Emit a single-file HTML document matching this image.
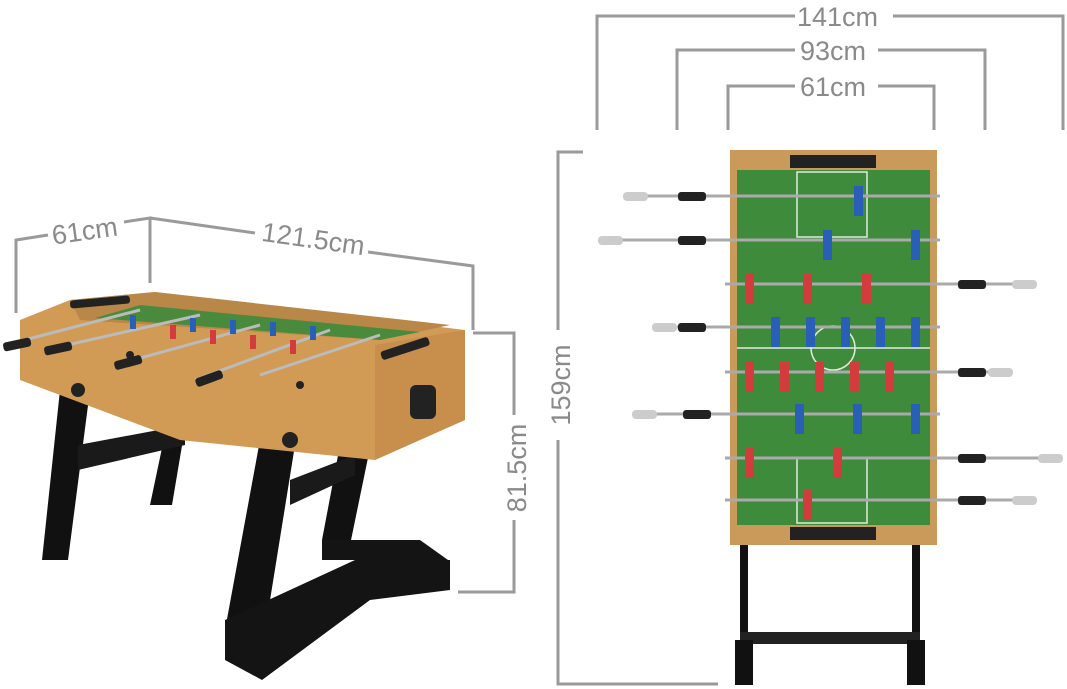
<!DOCTYPE html>
<html><head><meta charset="utf-8"><style>
html,body{margin:0;padding:0;background:#fff;width:1067px;height:689px;overflow:hidden}
svg text{font-family:"Liberation Sans",sans-serif;fill:#8a8a8a;font-size:27px}
</style></head><body>
<svg width="1067" height="689" viewBox="0 0 1067 689" xmlns="http://www.w3.org/2000/svg">
<g stroke="#9a9a9a" stroke-width="3" fill="none">
<!-- right dims -->
<polyline points="597,130 597,16 795,16"/><polyline points="893,16 1063,16 1063,130"/>
<polyline points="677,130 677,50 795,50"/><polyline points="878,50 985,50 985,130"/>
<polyline points="728,130 728,86 795,86"/><polyline points="878,86 934,86 934,130"/>
<polyline points="583,152 558,152 558,330"/><polyline points="558,440 558,684 718,684"/>
<!-- left dims -->
<polyline points="16,313 16,240 48,235"/><polyline points="124,222 150,218 150,283"/>
<polyline points="150,218 255,233"/><polyline points="368,252 473,266 473,330"/>
<polyline points="473,333 514,333 514,415"/><polyline points="514,520 514,592 458,592"/>
</g>
<text x="797" y="26">141cm</text>
<text x="800" y="60">93cm</text>
<text x="800" y="96">61cm</text>
<text transform="translate(570,385) rotate(-90)" text-anchor="middle">159cm</text>
<text transform="translate(86,240) rotate(-8)" text-anchor="middle">61cm</text>
<text transform="translate(312,248) rotate(8)" text-anchor="middle">121.5cm</text>
<text transform="translate(526,468) rotate(-90)" text-anchor="middle">81.5cm</text>

<!-- right table -->
<g>
<rect x="740" y="540" width="8" height="145" fill="#111"/>
<rect x="912" y="540" width="8" height="145" fill="#111"/>
<rect x="740" y="632" width="180" height="12" fill="#222"/>
<rect x="735" y="640" width="18" height="45" fill="#111"/><rect x="907" y="640" width="18" height="45" fill="#111"/>
<rect x="730" y="150" width="207" height="395" fill="#c99a5a"/>
<rect x="737" y="170" width="193" height="355" fill="#3f8b3c"/>
<rect x="790" y="155" width="86" height="13" fill="#222"/>
<rect x="790" y="527" width="86" height="13" fill="#222"/>
<g stroke="#dfe9dc" stroke-width="1.5" fill="none">
<rect x="797" y="172" width="70" height="65"/><rect x="797" y="458" width="70" height="65"/>
<line x1="737" y1="348" x2="930" y2="348"/><circle cx="833" cy="348" r="22"/>
</g>
<g stroke="#aaa" stroke-width="3">
<line x1="625" y1="196" x2="940" y2="196"/><line x1="600" y1="240" x2="940" y2="240"/>
<line x1="725" y1="284" x2="1035" y2="284"/><line x1="655" y1="327" x2="940" y2="327"/>
<line x1="725" y1="372" x2="1010" y2="372"/><line x1="635" y1="414" x2="940" y2="414"/>
<line x1="725" y1="458" x2="1062" y2="458"/><line x1="725" y1="500" x2="1035" y2="500"/>
</g>
<g fill="#222">
<rect x="678" y="192" width="28" height="9" rx="3"/><rect x="678" y="236" width="28" height="9" rx="3"/>
<rect x="958" y="280" width="28" height="9" rx="3"/><rect x="678" y="323" width="28" height="9" rx="3"/>
<rect x="958" y="368" width="28" height="9" rx="3"/><rect x="683" y="410" width="28" height="9" rx="3"/>
<rect x="958" y="454" width="28" height="9" rx="3"/><rect x="958" y="496" width="28" height="9" rx="3"/>
</g>
<g fill="#ccc">
<rect x="623" y="192" width="25" height="9" rx="4"/><rect x="598" y="236" width="25" height="9" rx="4"/>
<rect x="1012" y="280" width="25" height="9" rx="4"/><rect x="652" y="323" width="25" height="9" rx="4"/>
<rect x="988" y="368" width="25" height="9" rx="4"/><rect x="632" y="410" width="25" height="9" rx="4"/>
<rect x="1038" y="454" width="25" height="9" rx="4"/><rect x="1012" y="496" width="25" height="9" rx="4"/>
</g>
<g fill="#2a5fb8">
<rect x="854" y="186" width="9" height="30"/><rect x="823" y="230" width="9" height="30"/><rect x="911" y="230" width="9" height="30"/>
<rect x="771" y="317" width="9" height="30"/><rect x="806" y="317" width="9" height="30"/><rect x="841" y="317" width="9" height="30"/><rect x="876" y="317" width="9" height="30"/><rect x="911" y="317" width="9" height="30"/>
<rect x="795" y="404" width="9" height="30"/><rect x="853" y="404" width="9" height="30"/><rect x="911" y="404" width="9" height="30"/>
</g>
<g fill="#d33c3c">
<rect x="745" y="274" width="9" height="30"/><rect x="803" y="274" width="9" height="30"/><rect x="862" y="274" width="9" height="30"/>
<rect x="745" y="362" width="9" height="30"/><rect x="780" y="362" width="9" height="30"/><rect x="815" y="362" width="9" height="30"/><rect x="850" y="362" width="9" height="30"/><rect x="885" y="362" width="9" height="30"/>
<rect x="745" y="448" width="9" height="30"/><rect x="833" y="448" width="9" height="30"/><rect x="803" y="490" width="9" height="30"/>
</g>
</g>

<!-- left table -->
<g>
<polygon points="60,390 90,390 68,560 42,560" fill="#111"/>
<polygon points="170,410 188,410 172,505 150,505" fill="#111"/>
<polygon points="78,445 185,425 185,445 78,470" fill="#1a1a1a"/>
<polygon points="260,440 295,445 262,650 225,630" fill="#111"/>
<polygon points="340,445 370,448 350,545 322,540" fill="#111"/>
<polygon points="225,620 355,560 450,560 450,590 370,600 262,680 225,660" fill="#141414"/>
<polygon points="322,540 420,540 448,560 322,560" fill="#141414"/>
<polygon points="290,480 355,455 355,475 290,505" fill="#1a1a1a"/>
<polygon points="20,320 70,300 155,292 465,330 465,420 380,445 375,460 180,440 20,380" fill="#d19a55"/>
<polygon points="70,300 155,292 450,325 380,340 80,320" fill="#b98748"/>
<polygon points="95,318 380,340 420,332 140,305" fill="#4a8a3d"/>
<polygon points="375,345 465,330 465,420 375,460" fill="#c78e4c"/>
<rect x="410" y="385" width="26" height="34" rx="6" fill="#222"/>
<g stroke="#bbb" stroke-width="3">
<line x1="5" y1="345" x2="140" y2="310"/><line x1="45" y1="350" x2="200" y2="315"/>
<line x1="115" y1="365" x2="260" y2="325"/><line x1="195" y1="380" x2="330" y2="330"/>
<line x1="260" y1="375" x2="380" y2="335"/>
</g>
<g fill="#222">
<rect x="3" y="340" width="28" height="9" rx="3" transform="rotate(-12 17 344)"/>
<rect x="44" y="344" width="28" height="9" rx="3" transform="rotate(-12 58 348)"/>
<rect x="114" y="358" width="28" height="9" rx="3" transform="rotate(-15 128 362)"/>
<rect x="195" y="374" width="28" height="9" rx="3" transform="rotate(-20 209 378)"/>
<rect x="380" y="344" width="50" height="9" rx="3" transform="rotate(-18 405 348)"/>
<rect x="70" y="298" width="60" height="8" rx="3" transform="rotate(-5 100 302)"/>
<circle cx="78" cy="390" r="7"/><circle cx="290" cy="440" r="8"/>
<circle cx="130" cy="355" r="4"/><circle cx="300" cy="385" r="4"/>
</g>
<g fill="#d33c3c"><rect x="170" y="325" width="6" height="14"/><rect x="210" y="330" width="6" height="14"/><rect x="250" y="335" width="6" height="14"/><rect x="290" y="340" width="6" height="14"/></g>
<g fill="#2a5fb8"><rect x="130" y="315" width="6" height="14"/><rect x="190" y="318" width="6" height="14"/><rect x="230" y="320" width="6" height="14"/><rect x="270" y="322" width="6" height="14"/><rect x="310" y="326" width="6" height="14"/></g>
</g>
</svg>
</body></html>
